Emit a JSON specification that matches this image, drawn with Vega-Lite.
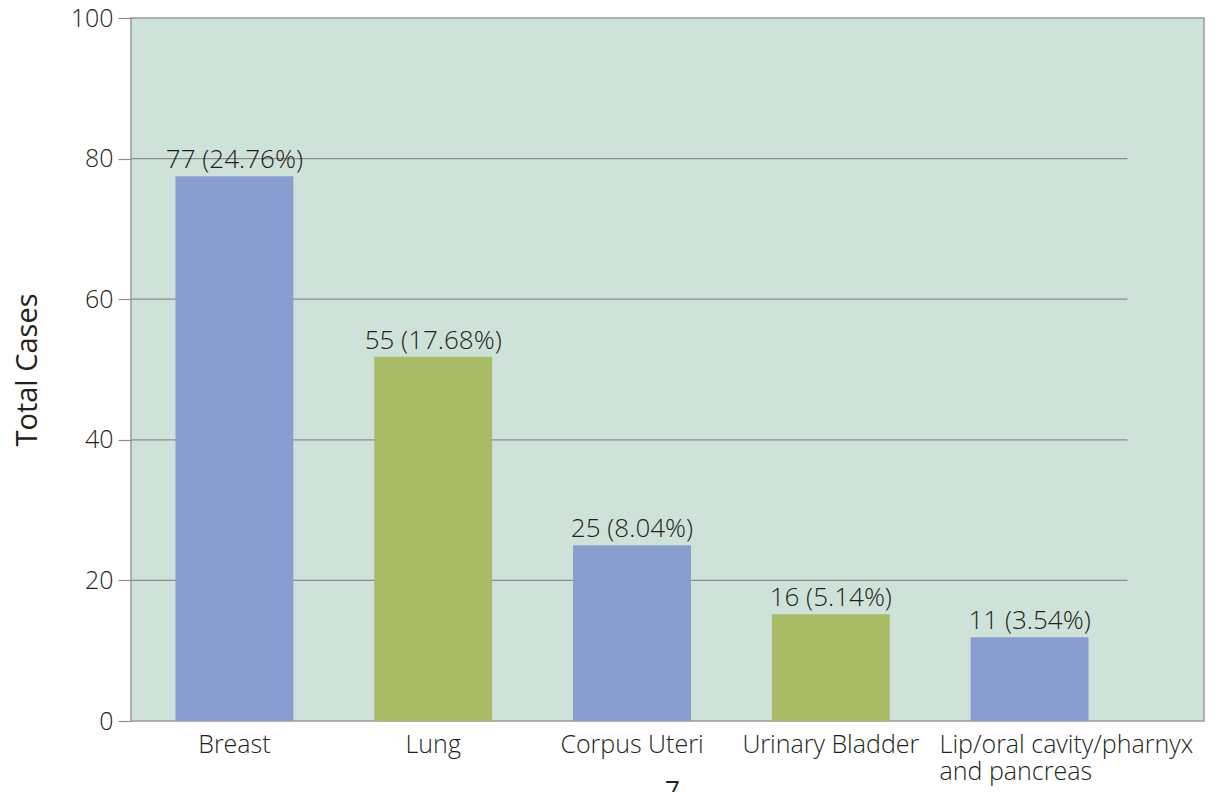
{
  "$schema": "https://vega.github.io/schema/vega-lite/v6.json",
  "width": 1073,
  "height": 703,
  "autosize": {"type": "none"},
  "padding": {"left": 131, "top": 18, "right": 16, "bottom": 71},
  "background": "#ffffff",
  "config": {
    "font": "Open Sans",
    "view": {"fill": "#cfe2da", "stroke": "#9a9a9a", "strokeWidth": 1.5}
  },
  "datasets": {
    "cases": [
      {"site": "Breast", "cases": 77.5, "label": "77 (24.76%)", "group": "A"},
      {"site": "Lung", "cases": 51.8, "label": "55 (17.68%)", "group": "B"},
      {"site": "Corpus Uteri", "cases": 25.0, "label": "25 (8.04%)", "group": "A"},
      {"site": "Urinary Bladder", "cases": 15.2, "label": "16 (5.14%)", "group": "B"},
      {"site": "Lip/oral cavity/pharnyx and pancreas", "cases": 11.9, "label": "11 (3.54%)", "group": "A"}
    ],
    "grid": [
      {"g": 20, "a": "Breast", "b": "Lip/oral cavity/pharnyx and pancreas"},
      {"g": 40, "a": "Breast", "b": "Lip/oral cavity/pharnyx and pancreas"},
      {"g": 60, "a": "Breast", "b": "Lip/oral cavity/pharnyx and pancreas"},
      {"g": 80, "a": "Breast", "b": "Lip/oral cavity/pharnyx and pancreas"}
    ]
  },
  "title": {
    "text": "7",
    "orient": "bottom",
    "anchor": "middle",
    "fontSize": 26,
    "fontWeight": "normal",
    "color": "#231f20",
    "offset": -6,
    "dx": 5
  },
  "layer": [
    {
      "data": {"name": "grid"},
      "mark": {"type": "rule", "color": "#8c8c8c", "strokeWidth": 1.2},
      "encoding": {
        "y": {"field": "g", "type": "quantitative", "scale": {"domain": [0, 100]}},
        "x": {"field": "a", "type": "nominal", "bandPosition": -0.37},
        "x2": {"field": "b", "bandPosition": 1.33}
      }
    },
    {
      "data": {"name": "cases"},
      "mark": {"type": "bar"},
      "encoding": {
        "x": {
          "field": "site",
          "type": "nominal",
          "sort": null,
          "scale": {
            "domain": ["Breast", "Lung", "Corpus Uteri", "Urinary Bladder", "Lip/oral cavity/pharnyx and pancreas"],
            "range": [4, 998],
            "paddingInner": 0.407,
            "paddingOuter": 0.2035
          },
          "axis": {
            "title": null,
            "labelAngle": 0,
            "labelAlign": {
              "condition": {"test": "datum.value == 'Lip/oral cavity/pharnyx and pancreas'", "value": "left"},
              "value": "center"
            },
            "labelOffset": {
              "condition": {"test": "datum.value == 'Lip/oral cavity/pharnyx and pancreas'", "value": -90},
              "value": 0
            },
            "labelBaseline": "top",
            "labelLimit": 400,
            "labelOverlap": false,
            "domain": false,
            "ticks": false,
            "labelPadding": 11,
            "labelFontSize": 25,
            "labelFontWeight": 300,
            "labelColor": "#231f20",
            "labelLineHeight": 27,
            "labelExpr": "datum.label == 'Lip/oral cavity/pharnyx and pancreas' ? ['Lip/oral cavity/pharnyx', 'and pancreas'] : datum.label"
          }
        },
        "y": {
          "field": "cases",
          "type": "quantitative",
          "scale": {"domain": [0, 100]},
          "axis": {
            "title": "Total Cases",
            "titleFontSize": 29,
            "titleFontWeight": "normal",
            "titleColor": "#231f20",
            "titlePadding": 28,
            "values": [0, 20, 40, 60, 80, 100],
            "grid": false,
            "domain": false,
            "tickSize": 13,
            "tickColor": "#8c8c8c",
            "tickWidth": 1.2,
            "labelPadding": 5,
            "labelFontSize": 25,
            "labelFontWeight": 300,
            "labelColor": "#231f20"
          }
        },
        "color": {
          "field": "group",
          "type": "nominal",
          "scale": {"domain": ["A", "B"], "range": ["#8a9dd0", "#a9bb67"]},
          "legend": null
        }
      }
    },
    {
      "data": {"name": "cases"},
      "mark": {"type": "text", "baseline": "bottom", "dy": -3, "fontSize": 26, "fontWeight": 300, "color": "#231f20"},
      "encoding": {
        "x": {"field": "site", "type": "nominal", "sort": null},
        "y": {"field": "cases", "type": "quantitative"},
        "text": {"field": "label"}
      }
    }
  ]
}
